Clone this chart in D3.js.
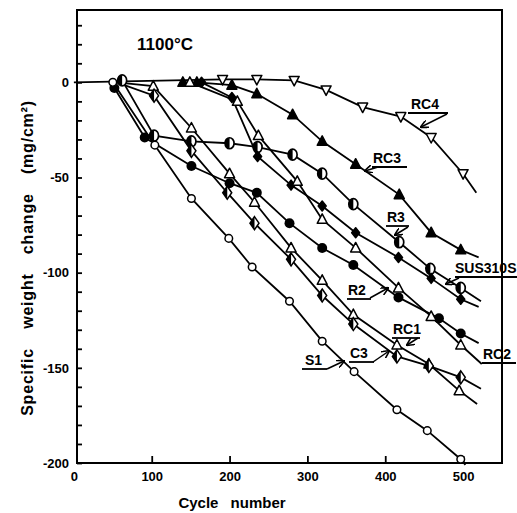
<!DOCTYPE html>
<html>
<head>
<meta charset="utf-8">
<script src="https://cdn.jsdelivr.net/npm/d3@7"></script>
<style>
  body { margin: 0; background: #fff; }
  text { font-family: "Liberation Sans", Arial, sans-serif; font-weight: bold; fill: #000; }
</style>
</head>
<body>
<div class="display"></div>
<script>
// cycle number, specific weight change (mg/cm2)
const s1 = [[50, 0], [104, -33], [151, -61], [199, -82], [229, -97], [277, -115], [319, -136], [360, -152], [415, -172], [454, -183], [497, -198]];
const rc4 = [[191, 1.5], [235, 1.5], [283, 1], [324, -4], [371, -13], [420, -18], [459, -29], [500, -48]];
const rc3 = [[140, 0], [158, 0], [203, -1.5], [235, -6], [281, -17], [319, -31], [362, -43], [418, -59], [459, -79], [497, -88]];
const r3 = [[62, 1], [103, -28], [151, -31], [200, -32], [236, -34], [281, -38], [319, -48], [359, -64], [418, -84], [458, -98], [497, -108]];
const sus310s = [[164, 0], [203, -8], [236, -39], [279, -54], [319, -65], [362, -79], [417, -92], [459, -103], [497, -114]];
const r2 = [[52, -3], [91, -29], [151, -44], [200, -53], [235, -58], [277, -74], [319, -87], [359, -96], [417, -113], [469, -124], [497, -132]];
const rc2 = [[149, 0], [210, -10], [237, -28], [287, -52], [319, -72], [362, -87], [417, -108], [459, -123], [497, -138]];
const rc1 = [[102, -2], [151, -24], [200, -48], [232, -63], [279, -87], [319, -104], [359, -122], [415, -138], [456, -148], [495, -162]];
const c3 = [[103, -7], [151, -36], [197, -58], [232, -74], [279, -93], [319, -112], [359, -127], [415, -144], [456, -149], [497, -155]];

// unmarked ends of the drawn curves
const leads = { RC4: [0, 0], RC1: [55, 0], C3: [55, 0] };
const tails = { RC4: [517, -58], RC3: [520, -92], R3: [523, -115], SUS310S: [520, -118], R2: [520, -137], RC2: [524, -148], RC1: [518, -169], C3: [523, -161], S1: [503, -201] };

const yTicks = d3.range(-200, 31, 10);
const yLabels = [0, -50, -100, -150, -200];
const xTicks = [100, 200, 300, 400, 500];
const xLabels = [0, 100, 200, 300, 400, 500];

const series = [
  { name: 'RC4', shape: 'triDown', points: rc4 },
  { name: 'RC3', shape: 'triUpFilled', points: rc3 },
  { name: 'R3', shape: 'halfCircle', points: r3 },
  { name: 'SUS310S', shape: 'diamondFilled', points: sus310s },
  { name: 'R2', shape: 'circleFilled', points: r2 },
  { name: 'RC2', shape: 'triUp', points: rc2 },
  { name: 'RC1', shape: 'triUp', points: rc1 },
  { name: 'C3', shape: 'halfDiamond', points: c3 },
  { name: 'S1', shape: 'circleOpen', points: s1 }
];

const config = {
  width: 517,
  height: 513,
  left: 77, right: 502, top: 10, bottom: 463,
  xDomain: [4, 550],
  yDomain: [-200, 38],
  title: '1100°C',
  xDisplay: 'Cycle number',
  yDisplay: 'Specific weight change (mg/cm²)'
};

// label text position, underline and arrow, in page pixels
const annotations = [
  { text: 'RC4', x: 411, y: 109, u: [408, 448, 113], arrow: [447, 114, 421, 127] },
  { text: 'RC3', x: 373, y: 163, u: [372, 407, 167], arrow: [378, 167, 365, 171] },
  { text: 'R3', x: 387, y: 222, u: [386, 409, 226], arrow: [408, 227, 395, 235] },
  { text: 'SUS310S', x: 455, y: 273, u: [455, 517, 277], arrow: [459, 278, 446, 284] },
  { text: 'R2', x: 348, y: 295, u: [347, 371, 299], arrow: [370, 298, 388, 288] },
  { text: 'RC2', x: 483, y: 359, u: [482, 516, 363], arrow: null },
  { text: 'RC1', x: 393, y: 334, u: [392, 420, 338], arrow: [418, 338, 407, 345] },
  { text: 'C3', x: 350, y: 358, u: [349, 374, 362], arrow: [373, 362, 389, 351] },
  { text: 'S1', x: 305, y: 365, u: [302, 327, 369], arrow: [327, 369, 344, 361] }
];

const shapes = {
  triUp: 'M0,-5.5L5,4L-5,4Z',
  triUpFilled: 'M0,-5.5L5,4L-5,4Z',
  triDown: 'M0,5.5L5,-4L-5,-4Z',
  diamondFilled: 'M0,-5L4,0L0,5L-4,0Z',
  halfDiamond: 'M0,-6.5L4.5,0L0,6.5L-4.5,0Z'
};

const svg = d3.select('.display')
  .append('svg')
  .attr('width', config.width)
  .attr('height', config.height);

const x = d3.scaleLinear().domain(config.xDomain).range([config.left, config.right]);
const y = d3.scaleLinear().domain(config.yDomain).range([config.bottom, config.top]);

svg.append('defs').append('marker')
  .attr('id', 'arrow')
  .attr('viewBox', '0 0 10 10')
  .attr('refX', 9).attr('refY', 5)
  .attr('markerWidth', 8).attr('markerHeight', 8)
  .attr('markerUnits', 'userSpaceOnUse')
  .attr('orient', 'auto')
  .append('path')
  .attr('d', 'M0,0L10,5L0,10')
  .attr('fill', 'none')
  .attr('stroke', '#000')
  .attr('stroke-width', 2);

// Draw y axis
const yAxis = svg.append('g')
  .attr('transform', `translate(${config.left},0)`)
  .call(d3.axisLeft(y)
    .tickValues(yTicks)
    .tickSizeInner(-5)
    .tickSizeOuter(0)
    .tickPadding(8)
    .tickFormat(d => yLabels.includes(d) ? String(d) : ''));
yAxis.select('.domain').remove();
yAxis.selectAll('line').attr('stroke-width', 1.8);
yAxis.selectAll('text').style('font-size', '13px').attr('font-family', null);

// Draw x axis
const xAxis = svg.append('g')
  .attr('transform', `translate(0,${config.bottom})`)
  .call(d3.axisBottom(x)
    .tickValues(xLabels)
    .tickSizeInner(-7)
    .tickSizeOuter(0)
    .tickPadding(9)
    .tickFormat(d => String(d)));
xAxis.select('.domain').remove();
xAxis.selectAll('line').attr('stroke-width', 1.8)
  .attr('display', d => xTicks.includes(d) ? null : 'none');
xAxis.selectAll('text').style('font-size', '13px').attr('font-family', null);

// frame
svg.append('rect')
  .attr('x', config.left).attr('y', config.top)
  .attr('width', config.right - config.left)
  .attr('height', config.bottom - config.top)
  .attr('fill', 'none')
  .attr('stroke', '#000')
  .attr('stroke-width', 2);

const line = d3.line().x(d => x(d[0])).y(d => y(d[1]));

const plot = svg.append('g');

plot.selectAll('.curve')
  .data(series)
  .enter()
  .append('path')
  .attr('class', 'curve')
  .attr('fill', 'none')
  .attr('stroke', '#000')
  .attr('stroke-width', 1.8)
  .attr('d', s => {
    const pts = s.points.slice();
    if (leads[s.name]) pts.unshift(leads[s.name]);
    if (tails[s.name]) pts.push(tails[s.name]);
    return line(pts);
  });

series.forEach(s => {
  const g = plot.append('g').attr('class', 'marks');
  const marks = g.selectAll('g')
    .data(s.points)
    .enter()
    .append('g')
    .attr('transform', d => `translate(${x(d[0])},${y(d[1])})`);

  if (s.shape === 'circleOpen') {
    marks.append('circle').attr('r', 3.8)
      .attr('fill', '#fff').attr('stroke', '#000').attr('stroke-width', 1.5);
  } else if (s.shape === 'circleFilled') {
    marks.append('circle').attr('r', 5).attr('fill', '#000');
  } else if (s.shape === 'halfCircle') {
    marks.append('ellipse').attr('rx', 4.5).attr('ry', 5.5)
      .attr('fill', '#fff').attr('stroke', '#000').attr('stroke-width', 1.7);
    marks.append('path').attr('d', 'M0,-5.5A4.5,5.5 0 0 0 0,5.5Z').attr('fill', '#000');
  } else if (s.shape === 'halfDiamond') {
    marks.append('path').attr('d', shapes.halfDiamond)
      .attr('fill', '#fff').attr('stroke', '#000').attr('stroke-width', 1.5);
    marks.append('path').attr('d', 'M0,-6.5L-4.5,0L0,6.5Z').attr('fill', '#000');
  } else {
    const filled = s.shape === 'triUpFilled' || s.shape === 'diamondFilled';
    marks.append('path').attr('d', shapes[s.shape])
      .attr('fill', filled ? '#000' : '#fff')
      .attr('stroke', '#000')
      .attr('stroke-width', 1.5)
      .attr('stroke-linejoin', 'round');
  }
});

// labels
const notes = svg.append('g');
annotations.forEach(a => {
  notes.append('text')
    .attr('x', a.x).attr('y', a.y)
    .style('font-size', '14px')
    .text(a.text);
  notes.append('line')
    .attr('x1', a.u[0]).attr('x2', a.u[1])
    .attr('y1', a.u[2]).attr('y2', a.u[2])
    .attr('stroke', '#000').attr('stroke-width', 1.8);
  if (a.arrow) {
    notes.append('line')
      .attr('x1', a.arrow[0]).attr('y1', a.arrow[1])
      .attr('x2', a.arrow[2]).attr('y2', a.arrow[3])
      .attr('stroke', '#000').attr('stroke-width', 1.5)
      .attr('marker-end', 'url(#arrow)');
  }
});

svg.append('text')
  .attr('x', 137).attr('y', 50)
  .style('font-size', '17px')
  .text(config.title);

svg.append('text')
  .attr('x', 232).attr('y', 508)
  .attr('text-anchor', 'middle')
  .style('font-size', '15px')
  .style('word-spacing', '8px')
  .text(config.xDisplay);

svg.append('text')
  .attr('x', 33).attr('y', 258)
  .attr('transform', 'rotate(-90, 33, 258)')
  .attr('text-anchor', 'middle')
  .style('font-size', '16px')
  .style('letter-spacing', '0.8px')
  .style('word-spacing', '14px')
  .text(config.yDisplay);
</script>
</body>
</html>
